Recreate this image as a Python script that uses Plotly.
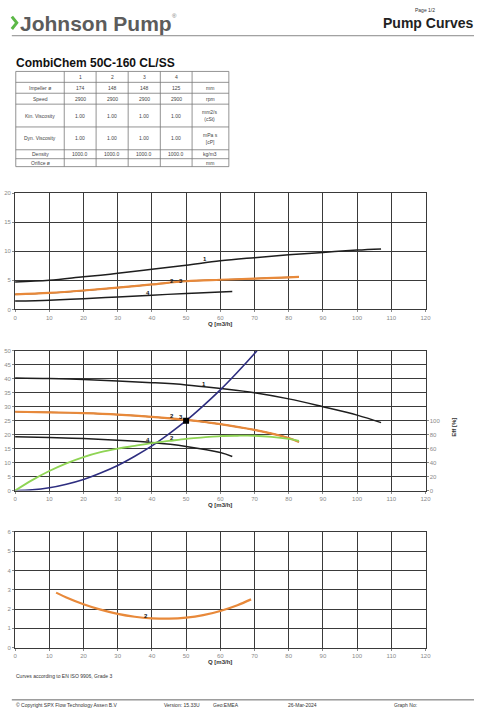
import plotly.graph_objects as go

W, H = 480, 722

# ---------------- data ----------------
q_curve1 = [0, 10, 20, 30, 40, 50, 60, 70, 80, 90, 100, 107]
q_curve2 = [0, 10, 20, 30, 40, 50, 60, 70, 80, 83]
q_curve4 = [0, 10, 20, 30, 40, 50, 60, 63.5]

power_1 = [4.7, 5.0, 5.6, 6.2, 6.9, 7.6, 8.35, 8.9, 9.4, 9.8, 10.2, 10.4]
power_2 = [2.6, 2.85, 3.25, 3.75, 4.3, 4.85, 5.1, 5.3, 5.5, 5.6]
power_4 = [1.45, 1.6, 1.85, 2.15, 2.45, 2.75, 3.0, 3.1]

head_1 = [40.3, 40.1, 39.7, 39.2, 38.6, 37.8, 36.5, 35.0, 32.8, 30.0, 27.0, 24.3]
head_2 = [28.2, 28.0, 27.7, 27.2, 26.4, 25.3, 23.8, 21.7, 18.8, 17.4]
head_4 = [19.3, 19.0, 18.6, 18.0, 17.2, 15.8, 13.6, 12.2]

q_system = [0, 5, 10, 15, 20, 25, 30, 35, 40, 45, 50, 55, 60, 65, 70, 70.7]
head_system = [0, 0.25, 1, 2.3, 4, 6.3, 9, 12.3, 16, 20.3, 25, 30.3, 36, 42.3, 49, 50]

q_eff = [0, 5, 10, 15, 20, 25, 30, 35, 40, 45, 50, 55, 60, 65, 70, 75, 80, 83]
eff_2 = [0, 15, 28, 39, 48, 55, 60, 64, 68, 71, 74, 76, 78, 78.5, 78.5, 77, 74, 71]

q_npsh = [12, 15, 20, 25, 30, 35, 40, 45, 50, 55, 60, 65, 69]
npsh_2 = [2.85, 2.6, 2.25, 1.97, 1.75, 1.6, 1.52, 1.5, 1.55, 1.68, 1.9, 2.2, 2.5]

duty_q = [50]
duty_h = [25]

table_cols = ["1", "2", "3", "4"]
table_rows = ["Impeller ø", "Speed", "Kin. Viscosity", "Dyn. Viscosity", "Density", "Orifice ø"]
table_units = ["mm", "rpm", "mm2/s<br>(cSt)", "mPa s<br>[cP]", "kg/m3", "mm"]
impeller = ["174", "148", "148", "125"]
speed = ["2900", "2900", "2900", "2900"]
kin_visc = ["1.00", "1.00", "1.00", "1.00"]
dyn_visc = ["1.00", "1.00", "1.00", "1.00"]
density = ["1000.0", "1000.0", "1000.0", "1000.0"]
orifice = ["", "", "", ""]

x_ticks = list(range(0, 121, 10))

# ---------------- helpers ----------------
def px(x):
    return x / W

def py(y):
    return 1 - y / H

BLACK = "#1e1e1e"
ORANGE = "#e8893a"
GREEN = "#8fd454"
NAVY = "#2e2e80"
GRID = "#3a3a3a"
TICKC = "#8a8a8a"
FONT = "Liberation Sans, Arial, sans-serif"

x_dom = [px(13.3), px(430.7)]
p1 = (191.7, 309.0)
p2 = (350.7, 491.7)
p3 = (533.3, 650.0)

fig = go.Figure()

def line(x, y, color, width, xa, ya):
    fig.add_trace(go.Scatter(x=x, y=y, mode="lines", line=dict(color=color, width=width, shape="spline"),
                             xaxis=xa, yaxis=ya, showlegend=False, hoverinfo="skip"))

# plot 1 (power)
line(q_curve2, power_2, BLACK, 1.2, "x", "y")
line(q_curve1, power_1, BLACK, 1.5, "x", "y")
line(q_curve2, power_2, ORANGE, 2.2, "x", "y")
line(q_curve4, power_4, BLACK, 1.5, "x", "y")

# plot 2 (head)
line(q_eff, eff_2, GREEN, 1.8, "x2", "y4")
line(q_curve1, head_1, BLACK, 1.5, "x2", "y2")
line(q_curve2, head_2, BLACK, 1.2, "x2", "y2")
line(q_curve2, head_2, ORANGE, 2.2, "x2", "y2")
line(q_curve4, head_4, BLACK, 1.5, "x2", "y2")
line(q_system, head_system, NAVY, 1.6, "x2", "y2")
fig.add_trace(go.Scatter(x=duty_q, y=duty_h, mode="markers",
                         marker=dict(symbol="square", size=6, color="black"),
                         xaxis="x2", yaxis="y2", showlegend=False, hoverinfo="skip"))

# plot 3 (NPSH)
line(q_npsh, npsh_2, ORANGE, 2.2, "x3", "y3")

# ---------------- axes ----------------
tickfont = dict(family=FONT, size=6, color=TICKC)

def xaxis(anchor):
    return dict(domain=x_dom, range=[0, 120], tickvals=x_ticks, anchor=anchor,
                showgrid=True, gridcolor=GRID, gridwidth=1, zeroline=False,
                showline=True, linecolor=GRID, linewidth=1, mirror=True,
                ticks="outside", ticklen=2, tickcolor=TICKC, tickfont=tickfont)

def yaxis(dom, rng, dtick, anchor):
    return dict(domain=[py(dom[1]), py(dom[0])], range=rng, dtick=dtick, anchor=anchor,
                showgrid=True, gridcolor=GRID, gridwidth=1, zeroline=False,
                showline=True, linecolor=GRID, linewidth=1, mirror=True,
                ticks="outside", ticklen=2, tickcolor=TICKC, tickfont=tickfont)

fig.update_layout(
    width=W, height=H, margin=dict(l=0, r=0, t=0, b=0),
    paper_bgcolor="white", plot_bgcolor="white", showlegend=False,
    xaxis=xaxis("y"), xaxis2=xaxis("y2"), xaxis3=xaxis("y3"),
    yaxis=yaxis(p1, [0, 20], 5, "x"),
    yaxis2=yaxis(p2, [0, 50], 5, "x2"),
    yaxis3=yaxis(p3, [0, 6], 1, "x3"),
    yaxis4=dict(overlaying="y2", side="right", anchor="x2", range=[0, 200],
                tickvals=[0, 20, 40, 60, 80, 100], showgrid=False, zeroline=False,
                ticks="outside", ticklen=2, tickcolor=TICKC, tickfont=tickfont, showline=False),
)

ann = []
shapes = []

def text(x, y, s, size, color="#222", bold=False, xanchor="left", yanchor="middle", angle=0):
    if bold:
        s = "<b>" + s + "</b>"
    ann.append(dict(x=px(x), y=py(y), xref="paper", yref="paper", text=s, showarrow=False,
                    xanchor=xanchor, yanchor=yanchor, textangle=angle,
                    font=dict(family=FONT, size=size, color=color)))

# ---------------- header ----------------
shapes.append(dict(type="path", xref="paper", yref="paper",
                   path=f"M {px(10)} {py(13.8)} L {px(15)} {py(20)} L {px(10)} {py(26.2)}",
                   line=dict(color="#5cb847", width=3)))
text(16.5, 20.5, "Johnson Pump", 21, color="#5c5c5c", bold=True)
text(171, 13, "®", 6, color="#777")
text(442, 7, "Page 1/2", 5, color="#333", xanchor="right")
text(481, 20.5, "Pump Curves", 14, color="#222", bold=True, xanchor="right")
shapes.append(dict(type="line", xref="paper", yref="paper", x0=px(10), x1=px(480), y0=py(33), y1=py(33),
                   line=dict(color="#888", width=1)))
text(12, 61, "CombiChem 50C-160 CL/SS", 12, color="#111", bold=True)

# ---------------- table ----------------
row_b = [69, 80, 91, 102, 125, 148, 157, 165]
col_b = [14, 63.3, 95.7, 128.3, 161, 193.3, 230.7]
for y in row_b:
    shapes.append(dict(type="line", xref="paper", yref="paper", x0=px(col_b[0]), x1=px(col_b[-1]),
                       y0=py(y), y1=py(y), line=dict(color="#777", width=0.8)))
for x in col_b:
    shapes.append(dict(type="line", xref="paper", yref="paper", x0=px(x), x1=px(x),
                       y0=py(row_b[0]), y1=py(row_b[-1]), line=dict(color="#777", width=0.8)))

def cell(ci, ri, s):
    xc = (col_b[ci] + col_b[ci + 1]) / 2
    yc = (row_b[ri] + row_b[ri + 1]) / 2
    text(xc, yc, s, 5, color="#444", xanchor="center")

for i, c in enumerate(table_cols):
    cell(i + 1, 0, c)
values = [impeller, speed, kin_visc, dyn_visc, density, orifice]
for r, (lab, unit, vals) in enumerate(zip(table_rows, table_units, values)):
    cell(0, r + 1, lab)
    for i, v in enumerate(vals):
        if v:
            cell(i + 1, r + 1, v)
    cell(5, r + 1, unit)

# ---------------- curve labels ----------------
def clabel(xa, ya, x, y, s):
    ann.append(dict(x=x, y=y, xref=xa, yref=ya, text="<b>" + s + "</b>", showarrow=False,
                    font=dict(family=FONT, size=6, color="#111")))

clabel("x", "y", 55.5, 8.6, "1")
clabel("x", "y", 45.8, 4.9, "2")
clabel("x", "y", 48.4, 4.9, "3")
clabel("x", "y", 39, 2.8, "4")
clabel("x2", "y2", 55.3, 38.0, "1")
clabel("x2", "y2", 45.8, 26.6, "2")
clabel("x2", "y2", 48.4, 26.2, "3")
clabel("x2", "y2", 39, 18.1, "4")
clabel("x2", "y2", 45.8, 18.7, "2")
clabel("x3", "y3", 38.2, 1.65, "2")

# axis titles
for yy in (323.5, 506, 664.5):
    text(222, yy, "Q [m3/h]", 6, color="#333", bold=True, xanchor="center")
text(460, 428, "Eff [%]", 6, color="#333", bold=True, xanchor="center", angle=-90)

# ---------------- footer ----------------
text(12, 679, "Curves according to EN ISO 9906, Grade 3", 5, color="#333")
shapes.append(dict(type="line", xref="paper", yref="paper", x0=px(10), x1=px(480), y0=py(702.7), y1=py(702.7),
                   line=dict(color="#666", width=1)))
text(12, 708, "© Copyright SPX Flow Technology Assen B.V", 5, color="#333")
text(163, 708, "Version: 15.33U", 5, color="#333")
text(213, 708, "Geo:EMEA", 5, color="#333")
text(289, 708, "26-Mar-2024", 5, color="#333")
text(397, 708, "Graph No:", 5, color="#333")

fig.update_layout(annotations=ann, shapes=shapes)
fig.write_html("out.html", config={"displayModeBar": False, "staticPlot": True},
               post_script="document.body.style.margin='0';document.body.style.overflow='hidden';")
